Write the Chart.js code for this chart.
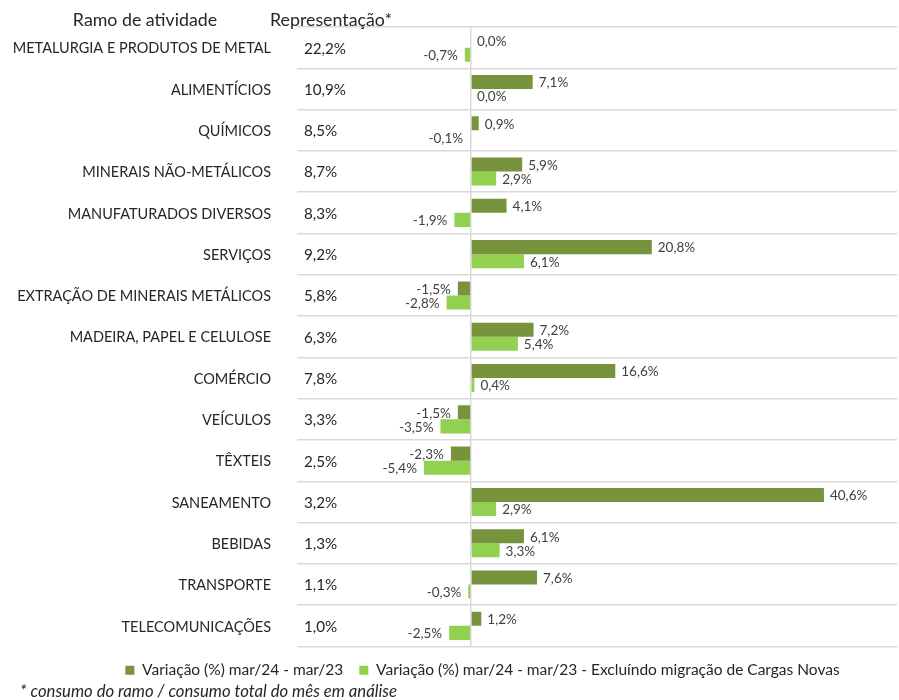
<!DOCTYPE html>
<html>
<head>
<meta charset="utf-8">
<script src="https://cdn.jsdelivr.net/npm/chart.js@4"></script>
<style>
  html, body { margin: 0; padding: 0; background: #fff; }
  #wrap { width: 899px; height: 700px; position: relative; }
</style>
</head>
<body>
<div id="wrap"><canvas id="ramoChart"></canvas></div>
<script>
const categories = [
  'METALURGIA E PRODUTOS DE METAL', 'ALIMENTÍCIOS', 'QUÍMICOS', 'MINERAIS NÃO-METÁLICOS',
  'MANUFATURADOS DIVERSOS', 'SERVIÇOS', 'EXTRAÇÃO DE MINERAIS METÁLICOS', 'MADEIRA, PAPEL E CELULOSE',
  'COMÉRCIO', 'VEÍCULOS', 'TÊXTEIS', 'SANEAMENTO', 'BEBIDAS', 'TRANSPORTE', 'TELECOMUNICAÇÕES'
]
const representacao = [22.2, 10.9, 8.5, 8.7, 8.3, 9.2, 5.8, 6.3, 7.8, 3.3, 2.5, 3.2, 1.3, 1.1, 1.0]
const variacao = [0.0, 7.1, 0.9, 5.9, 4.1, 20.8, -1.5, 7.2, 16.6, -1.5, -2.3, 40.6, 6.1, 7.6, 1.2]
const variacaoSemCargas = [-0.7, 0.0, -0.1, 2.9, -1.9, 6.1, -2.8, 5.4, 0.4, -3.5, -5.4, 2.9, 3.3, -0.3, -2.5]

const seriesNames = [
  'Variação (%) mar/24 - mar/23',
  'Variação (%) mar/24 - mar/23 - Excluíndo migração de Cargas Novas'
]
const headerRamo = 'Ramo de atividade'
const headerRep = 'Representação*'
const footnote = '* consumo do ramo / consumo total do mês em análise'

const FONT = 'Lato, "Noto Sans", sans-serif'
const fmt = v => v.toFixed(1).replace('.', ',') + '%'

// value labels next to each bar
const barLabels = {
  id: 'barLabels',
  afterDatasetsDraw(chart) {
    const ctx = chart.ctx
    ctx.save()
    ctx.font = '13.5px ' + FONT
    ctx.fillStyle = '#404040'
    ctx.textBaseline = 'middle'
    chart.data.datasets.forEach((ds, di) => {
      chart.getDatasetMeta(di).data.forEach((el, i) => {
        const v = ds.data[i]
        if (v < 0) {
          ctx.textAlign = 'right'
          ctx.fillText(fmt(v), el.x - 7, el.y + 1)
        } else {
          ctx.textAlign = 'left'
          ctx.fillText(fmt(v), Math.max(el.x, el.base) + 6, el.y + 1)
        }
      })
    })
    ctx.restore()
  }
}

// category names, representation column, headers and footnote
const sideText = {
  id: 'sideText',
  afterDraw(chart) {
    const ctx = chart.ctx
    const y = chart.scales.y
    ctx.save()
    ctx.fillStyle = '#262626'
    ctx.textBaseline = 'middle'
    categories.forEach((c, i) => {
      const py = y.getPixelForValue(i) + 1
      ctx.font = '14.5px ' + FONT
      ctx.textAlign = 'right'
      ctx.fillText(c, 271, py)
      ctx.font = '15.2px ' + FONT
      ctx.textAlign = 'left'
      ctx.fillText(fmt(representacao[i]), 304, py)
    })
    ctx.font = '17.8px ' + FONT
    ctx.textAlign = 'center'
    ctx.fillText(headerRamo, 145, 20)
    ctx.textAlign = 'left'
    ctx.fillText(headerRep, 270, 20)
    ctx.font = 'italic 16.7px ' + FONT
    ctx.fillText(footnote, 20, 692)
    ctx.restore()
  }
}

const ctx = document.getElementById('ramoChart')
new Chart(ctx, {
  type: 'bar',
  data: {
    labels: categories,
    datasets: [{
      label: seriesNames[0],
      data: variacao,
      backgroundColor: '#77933C',
      categoryPercentage: 0.68,
      barPercentage: 1.0
    }, {
      label: seriesNames[1],
      data: variacaoSemCargas,
      backgroundColor: '#92D050',
      categoryPercentage: 0.68,
      barPercentage: 1.0
    }]
  },
  options: {
    indexAxis: 'y',
    responsive: true,
    maintainAspectRatio: false,
    animation: false,
    layout: {
      padding: { left: 68, right: 2, top: 27, bottom: 12 }
    },
    plugins: {
      legend: {
        position: 'bottom',
        labels: {
          boxWidth: 9,
          boxHeight: 9,
          padding: 16,
          color: '#262626',
          font: { family: FONT, size: 15.5 }
        }
      },
      tooltip: { enabled: false }
    },
    scales: {
      x: {
        min: -20,
        max: 49,
        ticks: { display: false, stepSize: 10 },
        border: { display: false },
        grid: {
          drawTicks: false,
          lineWidth: 1.5,
          color: c => c.tick && c.tick.value === 0 ? '#d9d9d9' : 'rgba(0,0,0,0)'
        }
      },
      y: {
        ticks: { display: false },
        border: { display: false },
        grid: {
          offset: true,
          drawTicks: false,
          lineWidth: 1.5,
          color: '#d9d9d9'
        },
        afterFit(scale) {
          scale.width = 229
        }
      }
    }
  },
  plugins: [barLabels, sideText]
})
</script>
</body>
</html>
